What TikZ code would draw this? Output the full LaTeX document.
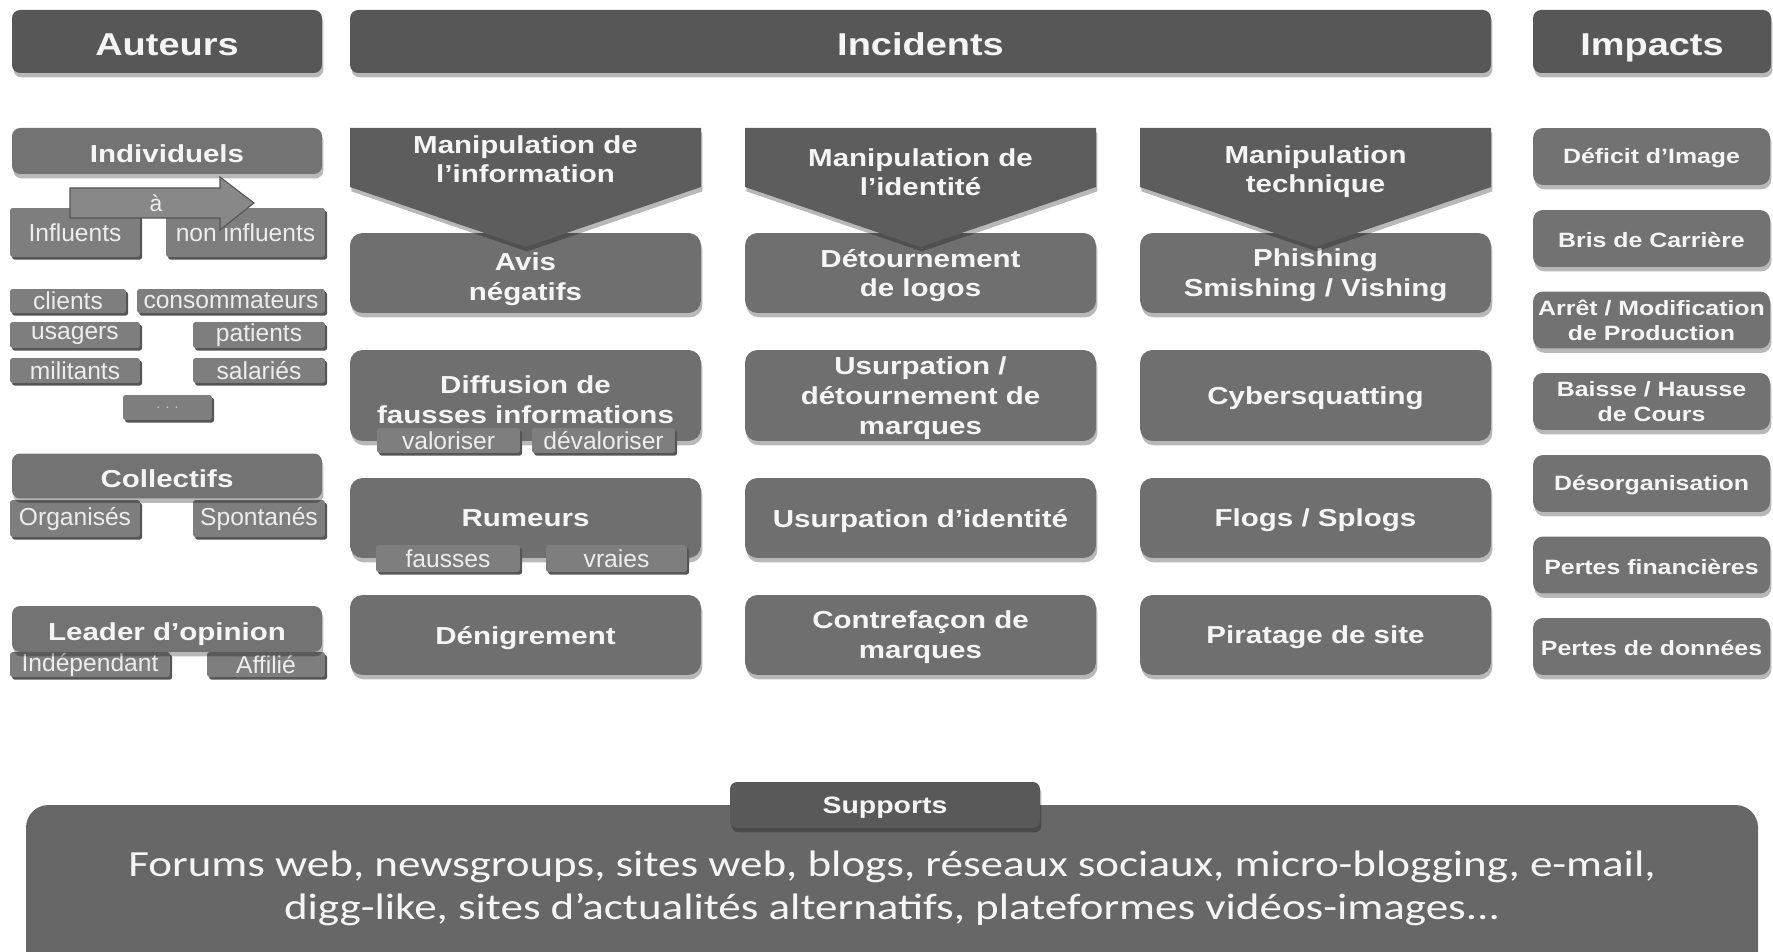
\documentclass[tikz,border=0pt]{standalone}
\usepackage{fontspec}
\usepackage{tikz}
\usetikzlibrary{shadows,positioning}
\setmainfont{Liberation Sans}
\newfontfamily\grasfont{Liberation Sans}[FakeStretch=1.2]
\newfontfamily\etiqfont{Liberation Sans}
\newfontfamily\supfont{Carlito}[FakeStretch=1.22]
\usepackage{xcolor}
\definecolor{fondtete}{HTML}{575757}
\definecolor{fondgroupe}{HTML}{737373}
\definecolor{fondetiq}{HTML}{7E7E7E}
\definecolor{bordetiq}{HTML}{555555}
\definecolor{fondinc}{HTML}{6F6F6F}
\definecolor{fondchev}{HTML}{5D5D5D}
\definecolor{fondimp}{HTML}{727272}
\definecolor{fondsupp}{HTML}{676767}
\definecolor{fondonglet}{HTML}{595959}
\definecolor{fleche}{HTML}{888888}
\definecolor{texte}{HTML}{F5F5F5}
\definecolor{texteetiq}{HTML}{EDEDED}

\tikzset{
  ombre/.style={drop shadow={shadow xshift=0.8pt, shadow yshift=-2.5pt, opacity=0.28, fill=black}},
  entete/.style={fill=fondtete, rounded corners=0.16cm, text=texte, minimum height=1.26cm,
    inner sep=0pt, font=\grasfont\bfseries\fontsize{18}{21}\selectfont, text depth=0pt,
    execute at begin node={\rule{0pt}{0.86em}}, ombre},
  groupe/.style={fill=fondgroupe, rounded corners=0.16cm, text=texte, minimum width=6.2cm,
    minimum height=0.92cm, inner sep=0pt, font=\grasfont\bfseries\fontsize{14}{17}\selectfont,
    text depth=0pt, execute at begin node={\rule{0pt}{0.9em}}, ombre},
  etiq/.style={fill=fondetiq, rounded corners=1.5pt, text=texteetiq, inner sep=0pt,
    font=\etiqfont\fontsize{14}{16}\selectfont,
    drop shadow={shadow xshift=1.2pt, shadow yshift=-1.5pt, fill=bordetiq, opacity=1}},
  incident/.style={fill=fondinc, rounded corners=0.25cm, text=texte, minimum width=7.02cm,
    minimum height=1.6cm, align=center, inner sep=0pt,
    font=\grasfont\bfseries\fontsize{14}{17}\selectfont, text depth=-5pt, ombre},
  chevron/.style={fill=fondchev, ombre},
  impact/.style={fill=fondimp, rounded corners=0.2cm, text=texte, minimum width=4.74cm,
    minimum height=1.14cm, align=center, inner sep=0pt,
    font=\grasfont\bfseries\fontsize{11.8}{14.2}\selectfont,
    execute at begin node={\rule{0pt}{0.92em}}, ombre},
}

\begin{document}
\begin{tikzpicture}[x=0.02cm, y=-0.02cm]
    \useasboundingbox (0,0) rectangle (1773,952);

    % En-tetes
    \node[entete, minimum width=6.2cm] (auteurs) at (167,41.5) {Auteurs};
    \node[entete, minimum width=22.82cm] (incidents) at (920.5,41.5) {Incidents};
    \node[entete, minimum width=4.76cm] (impacts) at (1652,41.5) {Impacts};

    % Auteurs : etiquettes
    \node[etiq, minimum width=2.6cm, minimum height=0.98cm] (influents) at (75,232.5) {Influents};
    \node[etiq, minimum width=3.18cm, minimum height=0.98cm] (noninfl) at (245.5,232.5) {non influents};
    \node[etiq, minimum width=2.32cm, minimum height=0.48cm] (clients) at (68,301) {clients};
    \node[etiq, minimum width=3.76cm, minimum height=0.48cm] (consom) at (231,301) {consommateurs};
    \node[etiq, minimum width=2.6cm, minimum height=0.52cm] (usagers) at (75,335) {usagers};
    \node[etiq, minimum width=2.64cm, minimum height=0.52cm] (patients) at (259,335) {patients};
    \node[etiq, minimum width=2.6cm, minimum height=0.5cm] (militants) at (75,370.5) {militants};
    \node[etiq, minimum width=2.64cm, minimum height=0.5cm] (salaries) at (259,370.5) {salariés};
    \node[etiq, minimum width=1.78cm, minimum height=0.5cm, text=gray!45, font=\etiqfont\fontsize{8}{9}\selectfont] (autres) at (167.5,407.5) {. . .};
    \node[etiq, minimum width=2.6cm, minimum height=0.74cm] (organises) at (75,518.5) {Organisés};
    \node[etiq, minimum width=2.64cm, minimum height=0.74cm] (spontanes) at (259,518.5) {Spontanés};
    \node[etiq, minimum width=3.2cm, minimum height=0.5cm] (independant) at (90,664.5) {Indépendant};
    \node[etiq, minimum width=2.36cm, minimum height=0.5cm] (affilie) at (266,664.5) {Affilié};

    % Auteurs : groupes
    \node[groupe] (individuels) at (167,151) {Individuels};
    \node[groupe, minimum height=0.9cm] (collectifs) at (167,476) {Collectifs};
    \node[groupe] (leader) at (167,629) {Leader d’opinion};

    % Fleche "a"
    \fill[fleche, draw=bordetiq, line width=0.6pt] (70,188) -- (220,188) -- (220,177) -- (254,203)
        -- (220,230) -- (220,218) -- (70,218) -- cycle;
    \node[text=texteetiq, font=\etiqfont\fontsize{13}{15}\selectfont] (a) at (156,203) {à};

    % Incidents : premiere ligne
    \node[incident] (avis) at (525.5,273) {\rule{0pt}{1.05em}Avis\\négatifs};
    \node[incident] (logos) at (920.5,273) {Détournement\\de logos};
    \node[incident] (phishing) at (1315.5,273) {Phishing\\Smishing / Vishing};

    % Chevrons
    \foreach \x/\ty/\lab [count=\i] in {525.5/159/{Manipulation de\\l’information},
                                        920.5/172/{Manipulation de\\l’identité},
                                        1315.5/172/{Manipulation\\technique}} {
        \fill[chevron] ({\x-175.5},128) -- ({\x+175.5},128) -- ({\x+175.5},187)
            -- (\x,247) -- ({\x-175.5},187) -- cycle;
        \node[text=texte, align=center, font=\grasfont\bfseries\fontsize{14}{16.5}\selectfont]
            (chev\i) at (\x,\ty) {\lab};
    }

    % Incidents : autres lignes
    \node[incident, minimum height=1.82cm] (diffusion) at (525.5,395.5) {\rule{0pt}{1.05em}Diffusion de\\fausses informations};
    \node[incident, minimum height=1.82cm] (usurpmarques) at (920.5,395.5) {Usurpation /\\détournement de\\marques};
    \node[incident, minimum height=1.82cm] (cyber) at (1315.5,395.5) {Cybersquatting};
    \node[incident] (rumeurs) at (525.5,518) {Rumeurs};
    \node[incident] (usurpid) at (920.5,518) {Usurpation d’identité};
    \node[incident] (flogs) at (1315.5,518) {Flogs / Splogs};
    \node[incident] (denigr) at (525.5,635) {Dénigrement};
    \node[incident] (contref) at (920.5,635) {Contrefaçon de\\marques};
    \node[incident] (piratage) at (1315.5,635) {Piratage de site};

    % Etiquettes des incidents
    \node[etiq, minimum width=2.86cm, minimum height=0.5cm] (valoriser) at (448.5,440.5) {valoriser};
    \node[etiq, minimum width=2.86cm, minimum height=0.5cm] (devaloriser) at (603.5,440.5) {dévaloriser};
    \node[etiq, minimum width=2.88cm, minimum height=0.54cm] (fausses) at (448,558.5) {fausses};
    \node[etiq, minimum width=2.82cm, minimum height=0.54cm] (vraies) at (616.5,558.5) {vraies};

    % Impacts
    \foreach \y/\lab [count=\i] in {156.5/{Déficit d’Image}, 238.5/{Bris de Carrière},
                                    320/{Arrêt / Modification\\de Production},
                                    401.5/{Baisse / Hausse\\de Cours}, 483.5/{Désorganisation},
                                    565/{Pertes financières}, 646.5/{Pertes de données}} {
        \node[impact] (imp\i) at (1651.5,\y) {\lab};
    }

    % Supports
    \begin{scope}
        \clip (0,0) rectangle (1773,952);
        \fill[fondsupp, rounded corners=0.45cm] (26,805) rectangle (1758,1010);
    \end{scope}
    \node[fill=fondonglet, rounded corners=0.14cm, text=texte, minimum width=6.2cm, minimum height=0.92cm,
        inner sep=0pt, text depth=0pt, font=\grasfont\bfseries\fontsize{13.5}{16}\selectfont, ombre] (supports) at (885,805) {Supports};
    \node[text=texte, align=center, font=\supfont\fontsize{21}{24.4}\selectfont] (listesupp) at (892,888)
        {Forums web, newsgroups, sites web, blogs, réseaux sociaux, micro-blogging, e-mail,\\
         digg-like, sites d’actualités alternatifs, plateformes vidéos-images...};
\end{tikzpicture}
\end{document}
